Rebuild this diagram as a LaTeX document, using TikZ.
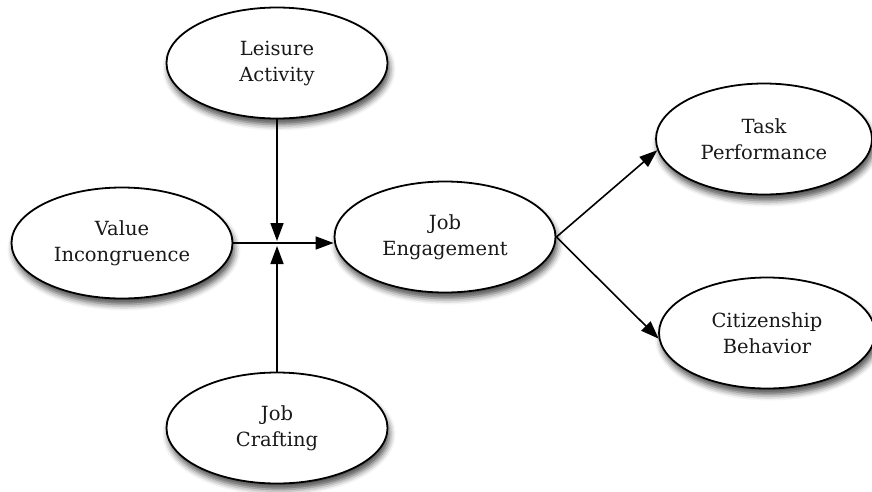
\documentclass[tikz,border=0pt]{standalone}
\usepackage{fontspec}
\setmainfont{DejaVu Serif}
\usetikzlibrary{shapes.geometric,arrows.meta,shadows.blur}
\begin{document}
\begin{tikzpicture}[x=1pt,y=-1pt,
  construct/.style={ellipse, draw, line width=1.8pt, fill=white,
    minimum width=221pt, minimum height=111pt, inner sep=0pt,
    align=center, font=\fontsize{19.5}{26}\selectfont, text=black!90,
    blur shadow={shadow xshift=2pt, shadow yshift=-6pt,
      shadow blur radius=6pt, shadow opacity=70}},
  link/.style={line width=1.6pt, -{Triangle[length=18pt,width=13pt]}}]
  \useasboundingbox (0,0) rectangle (872,491);

  % constructs
  \node[construct] (la) at (277,63)  {Leisure\\Activity};
  \node[construct] (vi) at (122,243) {Value\\Incongruence};
  \node[construct] (je) at (445,237) {Job\\Engagement};
  \node[construct] (jc) at (277,428) {Job\\Crafting};
  \node[construct, minimum width=216pt] (tp) at (764,139) {Task\\Performance};
  \node[construct, minimum width=216pt] (cb) at (767,333) {Citizenship\\Behavior};

  % moderation junction on the main path
  \coordinate (j) at (la.south |- vi.east);

  \draw[link] (vi.east) -- (je.west |- vi.east);
  \draw[link] (la.south) -- ([yshift=2pt]j);
  \draw[link] (jc.north) -- ([yshift=-3pt]j);

  % outcomes
  \draw[link] (je.east) -- (tp.186);
  \draw[link] (je.east) -- (cb.183);
\end{tikzpicture}
\end{document}
